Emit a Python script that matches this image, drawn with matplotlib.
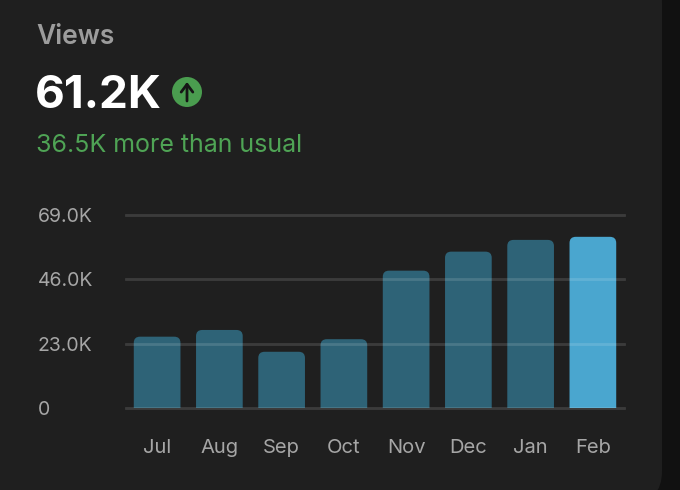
import matplotlib.pyplot as plt
from matplotlib import patches
from matplotlib.transforms import Bbox, TransformedBbox

# data
months = ['Jul', 'Aug', 'Sep', 'Oct', 'Nov', 'Dec', 'Jan', 'Feb']
views_k = [25.5, 27.9, 20.1, 24.6, 49.1, 55.9, 60.1, 61.2]
ytick_vals = [0, 23, 46, 69]
ytick_labels = ['0', '23.0K', '46.0K', '69.0K']
total_label = '61.2K'
delta_label = '36.5K more than usual'

W, H = 680, 490
plt.rcParams['font.family'] = ['Inter', 'DejaVu Sans']

fig = plt.figure(figsize=(W / 100, H / 100), dpi=100, facecolor='#111111')

# the card (behind everything)
card = patches.FancyBboxPatch((-40 / W, -12 / H), (662 + 40) / W, (H + 40) / H,
                              boxstyle='round,pad=0,rounding_size=0.045',
                              transform=fig.transFigure, facecolor='#1f1f1f',
                              edgecolor='none', mutation_aspect=W / H, zorder=-10)
fig.patches.append(card)

# header texts
fig.text(36 / W, 1 - 37 / H, 'Views', color='#9c9c9c', fontsize=19,
         fontweight='semibold', va='center', ha='left')
fig.text(35 / W, 1 - 108 / H, total_label, color='#ffffff', fontsize=33,
         fontweight='bold', va='baseline', ha='left')
fig.text(36 / W, 1 - 152 / H, delta_label, color='#4fa455', fontsize=18,
         va='baseline', ha='left')

# green badge with arrow
circ = patches.Circle((1.87, (H - 92) / 100), 0.15, transform=fig.dpi_scale_trans,
                      facecolor='#4a9d4f', edgecolor='none')
fig.patches.append(circ)
arr = patches.FancyArrowPatch((1.87, (H - 101) / 100), (1.87, (H - 82) / 100),
                              arrowstyle='->,head_length=0.4,head_width=0.3',
                              mutation_scale=14, color='#161616', lw=2,
                              shrinkA=0, shrinkB=0,
                              transform=fig.dpi_scale_trans)
fig.patches.append(arr)

# chart axes
ax = fig.add_axes([126 / W, (H - 408) / H, (624 - 126) / W, (408 - 215) / H])
ax.set_facecolor('none')
x = list(range(len(months)))
bars = ax.bar(x, views_k, width=0.75, color='none')
ax.set_xlim(-0.5, 7.5)
ax.set_ylim(0, 69)

# rounded-top bars, clipped at the baseline
clip = TransformedBbox(Bbox([[-0.5, 0], [7.5, 80]]), ax.transData)
for i, b in enumerate(bars):
    color = '#4aa6cf' if i == len(bars) - 1 else '#2e6377'
    fb = patches.FancyBboxPatch((b.get_x(), -5), b.get_width(), b.get_height() + 5,
                                boxstyle='round,pad=0,rounding_size=0.1',
                                mutation_aspect=22, facecolor=color, edgecolor='none',
                                zorder=2)
    ax.add_patch(fb)
    fb.set_clip_box(clip)

for v in ytick_vals:
    ax.axhline(v, color='white', alpha=0.13, lw=2, zorder=3, clip_on=False)

for s in ax.spines.values():
    s.set_visible(False)

ax.set_yticks(ytick_vals)
ax.set_yticklabels(ytick_labels)
for lab in ax.get_yticklabels():
    lab.set_horizontalalignment('left')
ax.set_xticks(x)
ax.set_xticklabels(months)
ax.tick_params(axis='y', length=0, pad=63.4, labelsize=14, labelcolor='#a6a6a6')
ax.tick_params(axis='x', length=0, pad=22, labelsize=14.5, labelcolor='#a6a6a6')

fig.savefig('out.png', dpi=100, facecolor=fig.get_facecolor())
